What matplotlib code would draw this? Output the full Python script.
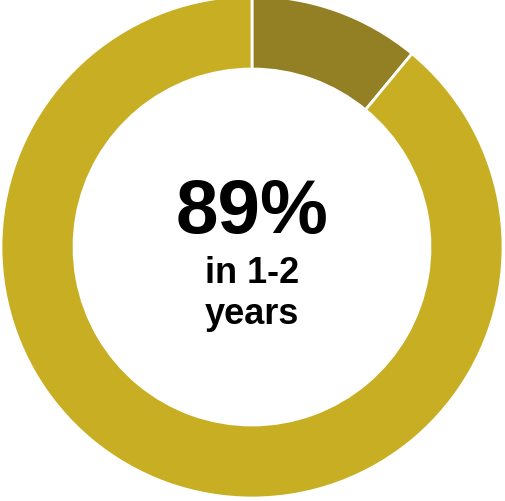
import matplotlib.pyplot as plt

# share of respondents
labels = ["other", "in 1-2 years"]
shares = [11, 89]
colors = ["#937F24", "#C8AE23"]

headline = "89%"
caption = ["in 1-2", "years"]

W, H = 505, 502
cx, cy = 252, 248   # ring centre in pixels (from top-left)
r_out = 251
r_in = 178

fig = plt.figure(figsize=(W / 100, H / 100), dpi=100)
ax = fig.add_axes([0, 0, 1, 1])

ax.pie(shares, colors=colors, startangle=90, counterclock=False,
       radius=1.0, wedgeprops=dict(width=1 - r_in / r_out, edgecolor="white", linewidth=2))

# map the unit circle so its centre sits at (cx, cy) pixels
ax.set_xlim(-cx / r_out, (W - cx) / r_out)
ax.set_ylim(-(H - cy) / r_out, cy / r_out)
ax.set_aspect("auto")
ax.axis("off")


def py(y_px):
    # pixel row (from top) -> data y
    return (cy - y_px) / r_out


ax.text(0, py(233.5), headline, ha="center", va="baseline",
        fontsize=55, fontweight="bold", family="Liberation Sans", color="black")
for line, base in zip(caption, [283, 324.5]):
    ax.text(0, py(base), line, ha="center", va="baseline",
            fontsize=26, fontweight="bold", family="Liberation Sans", color="black")

fig.savefig("out.png", dpi=100, facecolor="white")
